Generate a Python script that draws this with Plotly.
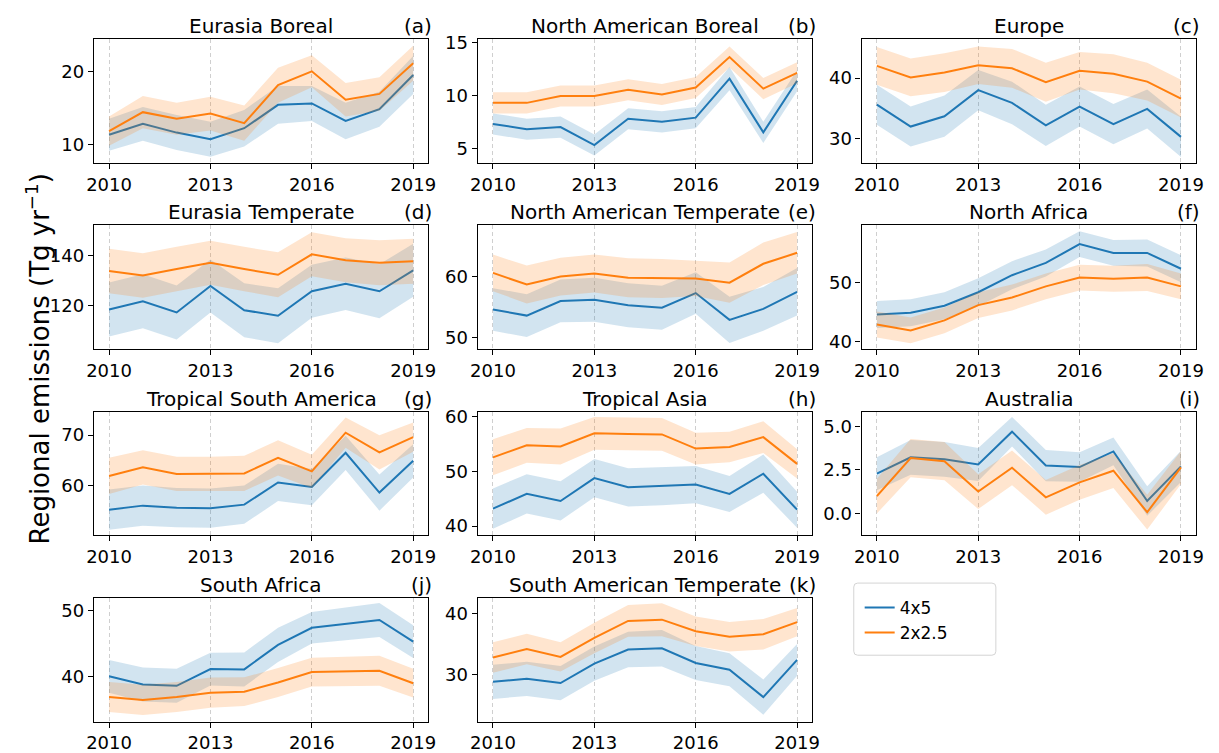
import plotly.graph_objects as go

years = list(range(2010, 2020))

titles = ["Eurasia Boreal", "North American Boreal", "Europe",
          "Eurasia Temperate", "North American Temperate", "North Africa",
          "Tropical South America", "Tropical Asia", "Australia",
          "South Africa", "South American Temperate"]
letters = ["(a)", "(b)", "(c)", "(d)", "(e)", "(f)", "(g)", "(h)", "(i)", "(j)", "(k)"]

# 4x5 resolution: central estimate and half-width of the uncertainty band
c45_a = [11.3, 12.8, 11.6, 10.7, 12.2, 15.4, 15.6, 13.2, 14.8, 19.5]
e45_a = [2.2, 2.3, 2.4, 2.4, 2.5, 2.6, 2.4, 2.5, 2.4, 2.6]
c45_b = [7.3, 6.8, 7.0, 5.3, 7.8, 7.5, 7.9, 11.6, 6.5, 11.4]
e45_b = [1.0, 1.0, 1.0, 1.0, 1.0, 1.0, 1.0, 1.1, 1.0, 1.0]
c45_c = [35.6, 32.0, 33.7, 38.0, 35.9, 32.2, 35.3, 32.4, 34.9, 30.3]
e45_c = [3.3, 3.3, 3.4, 3.3, 3.5, 3.4, 3.3, 3.3, 3.2, 3.3]
c45_d = [118.3, 121.6, 117.1, 127.7, 118.0, 115.8, 125.6, 128.6, 125.6, 134.0]
e45_d = [10.8, 10.8, 10.8, 10.6, 10.8, 11.0, 10.6, 10.5, 10.8, 10.6]
c45_e = [54.6, 53.6, 56.0, 56.2, 55.3, 54.9, 57.3, 52.9, 54.7, 57.5]
e45_e = [3.5, 3.5, 3.5, 3.6, 3.6, 3.6, 3.4, 3.8, 3.6, 3.9]
c45_f = [44.6, 44.9, 46.1, 48.4, 51.3, 53.4, 56.6, 55.1, 55.1, 52.4]
e45_f = [2.3, 2.3, 2.3, 2.4, 2.4, 2.3, 2.2, 2.2, 2.3, 2.3]
c45_g = [55.2, 56.0, 55.6, 55.5, 56.2, 60.6, 59.7, 66.5, 58.6, 64.9]
e45_g = [4.0, 4.0, 3.9, 3.9, 3.8, 3.7, 3.6, 3.4, 3.6, 3.3]
c45_h = [43.2, 45.9, 44.6, 48.8, 47.1, 47.3, 47.6, 45.9, 49.6, 43.0]
e45_h = [3.7, 3.6, 3.6, 3.5, 3.5, 3.5, 3.4, 3.3, 3.5, 3.3]
c45_i = [2.28, 3.22, 3.11, 2.81, 4.70, 2.75, 2.66, 3.56, 0.71, 2.70]
e45_i = [0.95, 1.0, 1.0, 0.95, 0.85, 0.9, 0.85, 0.8, 0.85, 0.9]
c45_j = [40.0, 38.75, 38.55, 41.1, 41.05, 44.8, 47.4, 48.0, 48.6, 45.3]
e45_j = [2.5, 2.6, 2.6, 2.5, 2.6, 2.6, 2.4, 2.5, 2.6, 2.5]
c45_k = [28.8, 29.3, 28.6, 31.8, 34.1, 34.3, 31.9, 30.8, 26.3, 32.4]
e45_k = [2.8, 2.8, 2.8, 2.8, 2.9, 3.0, 2.8, 2.7, 2.9, 2.6]

# 2x2.5 resolution: central estimate and half-width of the uncertainty band
c225_a = [11.8, 14.4, 13.5, 14.2, 12.9, 18.1, 20.0, 16.1, 16.9, 21.1]
e225_a = [2.0, 2.2, 2.2, 2.3, 2.4, 2.4, 2.2, 2.3, 2.3, 2.4]
c225_b = [9.3, 9.3, 9.95, 9.95, 10.55, 10.1, 10.75, 13.65, 10.65, 12.15]
e225_b = [1.0, 1.0, 1.0, 1.0, 1.0, 1.0, 1.0, 1.0, 1.0, 1.0]
c225_c = [42.0, 40.1, 40.9, 42.1, 41.6, 39.3, 41.2, 40.7, 39.4, 36.6]
e225_c = [3.1, 3.1, 3.2, 3.1, 3.2, 3.2, 3.1, 3.2, 3.1, 3.1]
c225_d = [133.7, 131.9, 134.5, 137.0, 134.5, 132.2, 140.4, 138.0, 137.0, 137.6]
e225_d = [8.9, 8.9, 8.9, 8.8, 8.9, 9.0, 8.8, 8.8, 9.0, 9.0]
c225_e = [60.6, 58.7, 60.0, 60.5, 59.8, 59.7, 59.7, 59.0, 62.1, 63.9]
e225_e = [3.0, 3.1, 3.1, 3.1, 3.2, 3.2, 2.9, 3.3, 3.5, 3.4]
c225_f = [42.9, 41.9, 43.6, 46.2, 47.5, 49.4, 50.9, 50.7, 50.9, 49.4]
e225_f = [2.2, 2.2, 2.2, 2.2, 2.2, 2.2, 2.2, 2.2, 2.3, 2.2]
c225_g = [61.9, 63.6, 62.3, 62.3, 62.4, 65.5, 62.8, 70.5, 66.6, 69.6]
e225_g = [3.6, 3.4, 3.4, 3.4, 3.5, 3.5, 3.3, 3.0, 3.4, 2.9]
c225_h = [52.6, 54.8, 54.6, 57.0, 56.9, 56.8, 54.2, 54.5, 56.3, 51.4]
e225_h = [3.3, 3.2, 3.3, 3.0, 3.0, 3.0, 2.9, 2.8, 2.9, 2.7]
c225_i = [0.99, 3.18, 3.00, 1.25, 2.62, 0.92, 1.78, 2.45, 0.06, 2.64]
e225_i = [1.0, 1.1, 1.1, 1.0, 1.0, 1.0, 1.0, 1.0, 1.0, 0.95]
c225_j = [36.85, 36.4, 36.85, 37.5, 37.65, 39.05, 40.65, 40.75, 40.85, 38.95]
e225_j = [2.3, 2.3, 2.3, 2.3, 2.2, 2.2, 2.2, 2.2, 2.3, 2.2]
c225_k = [32.8, 34.2, 32.9, 36.0, 38.8, 39.0, 37.1, 36.2, 36.6, 38.6]
e225_k = [2.5, 2.5, 2.4, 2.5, 2.6, 2.7, 2.4, 2.4, 2.5, 2.3]

series45 = [(c45_a, e45_a), (c45_b, e45_b), (c45_c, e45_c), (c45_d, e45_d),
            (c45_e, e45_e), (c45_f, e45_f), (c45_g, e45_g), (c45_h, e45_h),
            (c45_i, e45_i), (c45_j, e45_j), (c45_k, e45_k)]
series225 = [(c225_a, e225_a), (c225_b, e225_b), (c225_c, e225_c), (c225_d, e225_d),
             (c225_e, e225_e), (c225_f, e225_f), (c225_g, e225_g), (c225_h, e225_h),
             (c225_i, e225_i), (c225_j, e225_j), (c225_k, e225_k)]

# y-axis ranges and tick values per panel
y_ranges = [[7.44, 24.4], [3.6, 15.34], [26.0, 46.4], [102.4, 152.0], [48.1, 68.4],
            [38.7, 59.8], [50.1, 74.7], [38.3, 61.0], [-1.27, 5.86], [33.1, 52.0], [22.3, 42.6]]
y_ticks = [[10, 20], [5, 10, 15], [30, 40], [120, 140], [50, 60], [40, 50],
           [60, 70], [40, 50, 60], [0, 2.5, 5.0], [40, 50], [30, 40]]
x_ticks = [2010, 2013, 2016, 2019]

W, H = 1219, 753
col_left = [87, 476, 865]
col_w = 339
row_top = [33, 224, 415, 606]
row_h = 127

BLUE = "#1f77b4"
ORANGE = "#ff7f0e"
BLUE_FILL = "rgba(31,119,180,0.2)"
ORANGE_FILL = "rgba(255,127,14,0.2)"
FONT = "DejaVu Sans"

fig = go.Figure()
layout = dict(width=W, height=H, margin=dict(l=0, r=0, t=0, b=0),
              paper_bgcolor="white", plot_bgcolor="white",
              font=dict(family=FONT, color="black"))
annotations = []

for k in range(len(titles)):
    r, c = divmod(k, 3)
    n = k + 1
    xa = "x" if n == 1 else f"x{n}"
    ya = "y" if n == 1 else f"y{n}"
    x0 = col_left[c] / W
    x1 = (col_left[c] + col_w) / W
    y1 = 1 - row_top[r] / H
    y0 = 1 - (row_top[r] + row_h) / H

    for (cen, err), line_col, fill_col, name in [
            (series45[k], BLUE, BLUE_FILL, "4x5"),
            (series225[k], ORANGE, ORANGE_FILL, "2x2.5")]:
        lo = [v - e for v, e in zip(cen, err)]
        hi = [v + e for v, e in zip(cen, err)]
        fig.add_trace(go.Scatter(x=years, y=lo, mode="lines", line=dict(width=0),
                                 showlegend=False, hoverinfo="skip", xaxis=xa, yaxis=ya))
        fig.add_trace(go.Scatter(x=years, y=hi, mode="lines", line=dict(width=0),
                                 fill="tonexty", fillcolor=fill_col,
                                 showlegend=False, hoverinfo="skip", xaxis=xa, yaxis=ya))
        fig.add_trace(go.Scatter(x=years, y=cen, mode="lines", name=name,
                                 line=dict(color=line_col, width=2),
                                 showlegend=(k == 0), legendgroup=name,
                                 xaxis=xa, yaxis=ya))

    ax_common = dict(showline=True, linecolor="black", linewidth=1.3, mirror=True,
                     ticks="outside", ticklen=5, tickwidth=1.2, tickcolor="black",
                     tickfont=dict(size=18, family=FONT, color="black"), zeroline=False)
    layout["xaxis" if n == 1 else f"xaxis{n}"] = dict(
        domain=[x0, x1], anchor=ya, range=[2009.55, 2019.45],
        tickvals=x_ticks, showgrid=True, gridcolor="#cfcfcf", gridwidth=1,
        griddash="4px,3px", **ax_common)
    yt = y_ticks[k]
    ytext = [f"{v:.1f}" for v in yt] if k == 8 else [str(v) for v in yt]
    layout["yaxis" if n == 1 else f"yaxis{n}"] = dict(
        domain=[y0, y1], anchor=xa, range=y_ranges[k], tickvals=yt, ticktext=ytext,
        showgrid=False, **ax_common)

    annotations.append(dict(text=titles[k], x=(x0 + x1) / 2, y=y1, xref="paper", yref="paper",
                            xanchor="center", yanchor="middle", yshift=13, showarrow=False,
                            font=dict(size=20, family=FONT, color="black")))
    annotations.append(dict(text=letters[k], x=x1, y=y1, xref="paper", yref="paper",
                            xanchor="right", yanchor="middle", yshift=13, xshift=6,
                            showarrow=False, font=dict(size=20, family=FONT, color="black")))

annotations.append(dict(text="Regional emissions (Tg yr<sup>−1</sup>)", x=30 / W, y=1 - 361 / H,
                        xref="paper", yref="paper", textangle=-90, showarrow=False,
                        xanchor="center", yanchor="middle",
                        font=dict(size=26, family=FONT, color="black")))

layout["annotations"] = annotations

# legend frame with rounded corners, drawn as a shape behind the legend entries
lx0, lx1, ly0, ly1, rad = 857, 1001, 591, 665, 4
frame_path = (f"M {lx0 + rad},{ly0} L {lx1 - rad},{ly0} Q {lx1},{ly0} {lx1},{ly0 + rad} "
              f"L {lx1},{ly1 - rad} Q {lx1},{ly1} {lx1 - rad},{ly1} "
              f"L {lx0 + rad},{ly1} Q {lx0},{ly1} {lx0},{ly1 - rad} "
              f"L {lx0},{ly0 + rad} Q {lx0},{ly0} {lx0 + rad},{ly0} Z")


def _px_to_paper(path):
    """Convert a path given in pixel coordinates to paper coordinates."""
    out = []
    for tok in path.split(" "):
        if "," in tok:
            px, py = tok.split(",")
            out.append(f"{float(px) / W:.5f},{1 - float(py) / H:.5f}")
        else:
            out.append(tok)
    return " ".join(out)


layout["shapes"] = [dict(type="path", path=_px_to_paper(frame_path), xref="paper", yref="paper",
                         line=dict(color="#d4d4d4", width=1), fillcolor="white", layer="below")]

layout["showlegend"] = True
layout["legend"] = dict(x=863 / W, y=1 - 598 / H, xanchor="left", yanchor="top",
                        bgcolor="rgba(0,0,0,0)", borderwidth=0,
                        font=dict(size=17, family=FONT, color="black"),
                        tracegroupgap=0)
fig.update_layout(**layout)
fig.write_html("out.html")
